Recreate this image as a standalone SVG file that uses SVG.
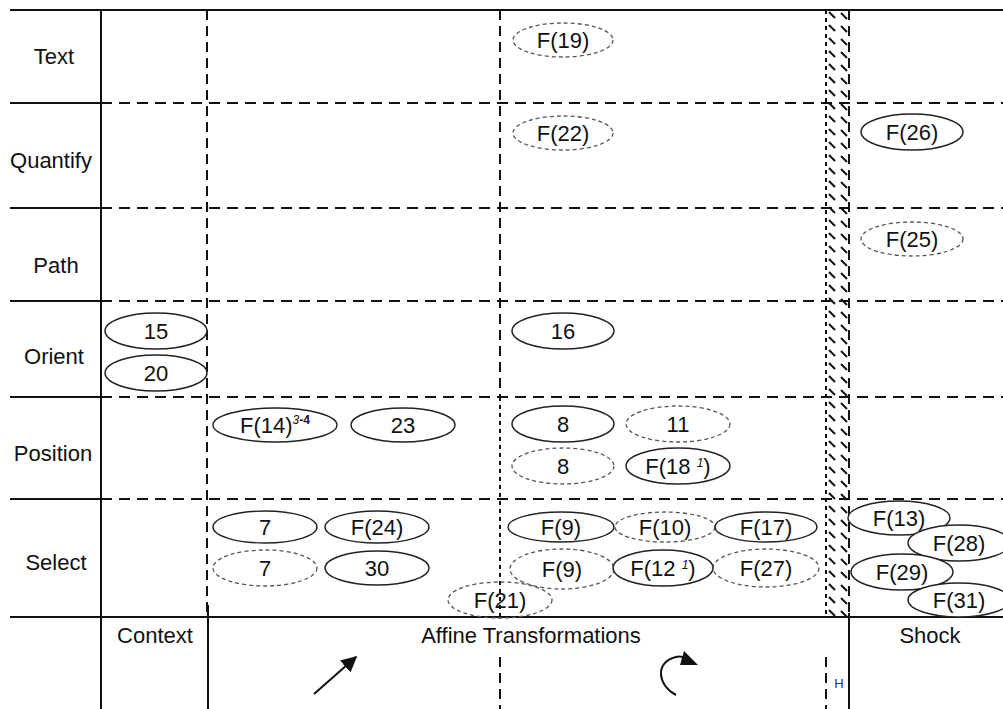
<svg xmlns="http://www.w3.org/2000/svg" width="1003" height="709" viewBox="0 0 1003 709">
<style>
.solid{stroke:#111;stroke-width:2;fill:none}
.dash{stroke:#111;stroke-width:2;fill:none;stroke-dasharray:11 7}
.dot{stroke:#111;stroke-width:2;fill:none;stroke-dasharray:4 4}
.lbl{font-family:"Liberation Sans",Arial,sans-serif;font-size:22px;fill:#111;text-anchor:middle}
.en ellipse{fill:#fff;stroke:#222;stroke-width:1.4}
.ed ellipse{fill:none;stroke:#555;stroke-width:1.3;stroke-dasharray:4 3}
.t{font-family:"Liberation Sans",Arial,sans-serif;font-size:22px;fill:#111;text-anchor:middle}
.sup{font-size:12px;font-style:italic}
.head{fill:#111;stroke:none}
</style>
<defs>
<pattern id="hatch" patternUnits="userSpaceOnUse" x="826" y="10" width="23" height="13">
<path d="M3 2 L9 8 M15 3 L21 9" stroke="#111" stroke-width="2" fill="none"/>
</pattern>
<marker id="ah" viewBox="0 0 10 10" refX="9" refY="5" markerWidth="8" markerHeight="8" orient="auto" markerUnits="strokeWidth">
<path d="M0 0 L10 5 L0 10 Z" fill="#111"/>
</marker>
</defs>
<rect width="1003" height="709" fill="#fff"/>
<g id="grid">
<path class="solid" d="M10 10 H1003 M10 617 H1003 M101 10 V709 M208 605 V709 M849 613 V709"/>
<path class="solid" d="M10 103 H101 M10 208 H101 M10 301 H101 M10 397 H101 M10 499 H101"/>
<path class="dash" d="M101 103 H1003 M101 208 H1003 M101 301 H1003 M101 397 H1003 M101 499 H1003"/>
<path class="dash" style="stroke-dasharray:10 6" d="M207 10 V617 M500 10 V397 M849 10 V617"/>
<path class="dot" d="M500 397 V617 M826 10 V617"/>
<path class="dash" style="stroke-dasharray:10 6" d="M500 657 V709 M826 657 V709"/>
<rect x="826" y="10" width="23" height="607" fill="url(#hatch)"/>
</g>
<g id="row-labels">
<text class="lbl" x="54" y="64">Text</text>
<text class="lbl" x="51" y="168">Quantify</text>
<text class="lbl" x="56" y="273">Path</text>
<text class="lbl" x="54" y="364">Orient</text>
<text class="lbl" x="53" y="461">Position</text>
<text class="lbl" x="56" y="570">Select</text>
</g>
<g id="col-labels">
<text class="lbl" x="155" y="643">Context</text>
<text class="lbl" x="531" y="643">Affine Transformations</text>
<text class="lbl" x="930" y="643">Shock</text>
<text x="839" y="688" style="font-family:'Liberation Sans',Arial,sans-serif;font-size:13px;fill:#333;text-anchor:middle">H</text>
</g>
<g id="connectors">
<path class="solid" d="M314 694 L356 657" marker-end="url(#ah)"/>
<path class="solid" d="M676 695 C658 686 654 662 676 657 C680 656 684 657 687 659"/>
<polygon class="head" points="684,651 698,665 680,665"/>
</g>
<g id="n-f19" class="ed"><ellipse cx="563" cy="40" rx="50" ry="17"/><text class="t" x="563" y="48">F(19)</text></g>
<g id="n-f22" class="ed"><ellipse cx="563" cy="133" rx="50" ry="17"/><text class="t" x="563" y="141">F(22)</text></g>
<g id="n-f26" class="en"><ellipse cx="912" cy="132" rx="51" ry="18"/><text class="t" x="912" y="140">F(26)</text></g>
<g id="n-f25" class="ed"><ellipse cx="912" cy="239" rx="51" ry="17"/><text class="t" x="912" y="247">F(25)</text></g>
<g id="n-15" class="en"><ellipse cx="156" cy="331" rx="51" ry="18"/><text class="t" x="156" y="339">15</text></g>
<g id="n-20" class="en"><ellipse cx="156" cy="373" rx="51" ry="18"/><text class="t" x="156" y="381">20</text></g>
<g id="n-16" class="en"><ellipse cx="563" cy="331" rx="51" ry="18"/><text class="t" x="563" y="339">16</text></g>
<g id="n-f14" class="en"><ellipse cx="275" cy="425" rx="62" ry="17"/><text class="t" x="275" y="433">F(14)<tspan class="sup" dy="-9">3</tspan><tspan font-size="12px" font-weight="bold">-4</tspan></text></g>
<g id="n-23" class="en"><ellipse cx="403" cy="425" rx="52" ry="17"/><text class="t" x="403" y="433">23</text></g>
<g id="n-8a" class="en"><ellipse cx="563" cy="424" rx="51" ry="18"/><text class="t" x="563" y="432">8</text></g>
<g id="n-11" class="ed"><ellipse cx="678" cy="424" rx="52" ry="18"/><text class="t" x="678" y="432">11</text></g>
<g id="n-8b" class="ed"><ellipse cx="563" cy="466" rx="51" ry="18"/><text class="t" x="563" y="474">8</text></g>
<g id="n-f18" class="en"><ellipse cx="678" cy="466" rx="52" ry="18"/><text class="t" x="678" y="474">F(18 <tspan class="sup" dy="-7">1</tspan><tspan dy="7">)</tspan></text></g>
<g id="n-7a" class="en"><ellipse cx="265" cy="527" rx="52" ry="16"/><text class="t" x="265" y="535">7</text></g>
<g id="n-f24" class="en"><ellipse cx="377" cy="527" rx="52" ry="16"/><text class="t" x="377" y="535">F(24)</text></g>
<g id="n-7b" class="ed"><ellipse cx="265" cy="568" rx="52" ry="18"/><text class="t" x="265" y="576">7</text></g>
<g id="n-30" class="en"><ellipse cx="377" cy="568" rx="52" ry="17"/><text class="t" x="377" y="576">30</text></g>
<g id="n-f21" class="ed"><ellipse cx="500" cy="600" rx="52" ry="18"/><text class="t" x="500" y="608">F(21)</text></g>
<g id="n-f9a" class="en"><ellipse cx="561" cy="527" rx="53" ry="15"/><text class="t" x="561" y="535">F(9)</text></g>
<g id="n-f10" class="ed"><ellipse cx="665" cy="527" rx="50" ry="15"/><text class="t" x="665" y="535">F(10)</text></g>
<g id="n-f17" class="en"><ellipse cx="766" cy="527" rx="51" ry="15"/><text class="t" x="766" y="535">F(17)</text></g>
<g id="n-f9b" class="ed"><ellipse cx="562" cy="569" rx="52" ry="20"/><text class="t" x="562" y="577">F(9)</text></g>
<g id="n-f12" class="en"><ellipse cx="663" cy="568" rx="50" ry="18"/><text class="t" x="663" y="576">F(12 <tspan class="sup" dy="-7">1</tspan><tspan dy="7">)</tspan></text></g>
<g id="n-f27" class="ed"><ellipse cx="766" cy="568" rx="53" ry="19"/><text class="t" x="766" y="576">F(27)</text></g>
<g id="n-f13" class="en"><ellipse cx="899" cy="518" rx="51" ry="17"/><text class="t" x="899" y="526">F(13)</text></g>
<g id="n-f28" class="en"><ellipse cx="959" cy="543" rx="51" ry="18"/><text class="t" x="959" y="551">F(28)</text></g>
<g id="n-f29" class="en"><ellipse cx="902" cy="572" rx="51" ry="18"/><text class="t" x="902" y="580">F(29)</text></g>
<g id="n-f31" class="en"><ellipse cx="959" cy="600" rx="51" ry="17"/><text class="t" x="959" y="608">F(31)</text></g>
</svg>
